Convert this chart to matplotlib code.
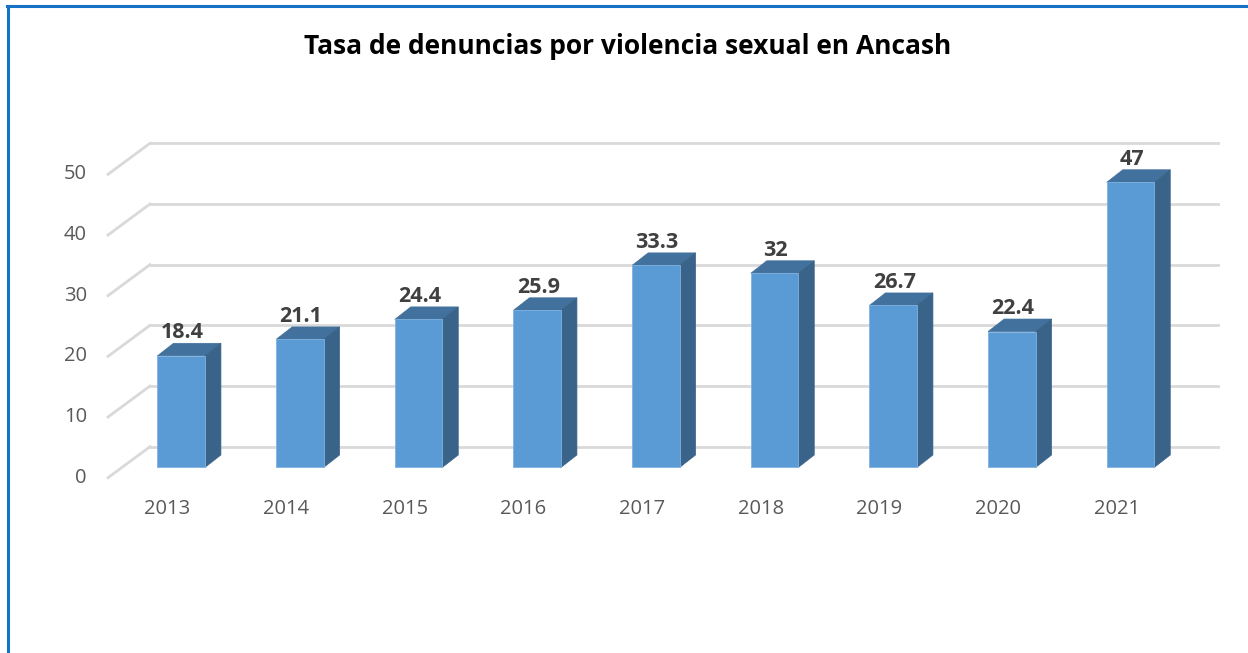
import matplotlib
matplotlib.use("Agg")
import matplotlib.pyplot as plt
from matplotlib.patches import Polygon
from matplotlib.lines import Line2D

# ---- data ----
years = ["2013", "2014", "2015", "2016", "2017", "2018", "2019", "2020", "2021"]
rates = [18.4, 21.1, 24.4, 25.9, 33.3, 32, 26.7, 22.4, 47]
value_labels = ["18.4", "21.1", "24.4", "25.9", "33.3", "32", "26.7", "22.4", "47"]
y_ticks = [0, 10, 20, 30, 40, 50]
title = "Tasa de denuncias por violencia sexual en Ancash"

# ---- style ----
FONT = "Open Sans"
FRONT = "#5B9BD5"
TOP = "#41719C"
SIDE = "#3A6389"
GRID = "#D9D9D9"
TICK_COLOR = "#595959"
LABEL_COLOR = "#404040"
BORDER = "#1672C4"

W, H, DPI = 1248, 653, 100
fig = plt.figure(figsize=(W / DPI, H / DPI), dpi=DPI)
fig.patch.set_facecolor("white")

# back wall of the pseudo-3D plot area (pixels)
left_px, right_px = 150, 1218
y0_px, y50_px = 446.7, 143.3
ax = fig.add_axes([left_px / W, (H - y0_px) / H,
                   (right_px - left_px) / W, (y0_px - y50_px) / H])
ax.set_xlim(-0.5, len(years) - 0.5)
ax.set_ylim(0, 50)
ax.axis("off")

# pixel -> data unit scales
sx = (right_px - left_px) / len(years)
sy = (y0_px - y50_px) / 50.0

# oblique depth: back wall -> front edge of the floor
depth_dx, depth_dy = -42 / sx, -31 / sy
# bar front plane sits at this fraction of the floor depth
f = 0.67
bf_dx, bf_dy = depth_dx * f, depth_dy * f
# bar thickness (front face -> back face)
bd_dx, bd_dy = 16 / sx, 12.5 / sy
bar_w = 0.40

# gridlines: back wall line + diagonal on the left side wall
for v in y_ticks:
    ax.add_line(Line2D([-0.5, len(years) - 0.5], [v, v], color=GRID, lw=2.0,
                       clip_on=False, zorder=1))
    ax.add_line(Line2D([-0.5 + depth_dx, -0.5], [v + depth_dy, v], color=GRID,
                       lw=2.0, clip_on=False, zorder=1))
    ax.annotate(str(v), xy=(-0.5 + depth_dx, v + depth_dy), xytext=(-21, 0),
                textcoords="offset pixels", ha="right", va="center",
                fontsize=14.5, color=TICK_COLOR, family=FONT,
                annotation_clip=False)

xs = list(range(len(years)))
bar_x = [x + bf_dx for x in xs]

# front faces
ax.bar(bar_x, rates, width=bar_w, bottom=bf_dy, color=FRONT,
       edgecolor="#7FB2E0", linewidth=0.6, zorder=4, clip_on=False)

# top and side faces
for x, v in zip(bar_x, rates):
    xl, xr = x - bar_w / 2, x + bar_w / 2
    top_y = v + bf_dy
    base_y = bf_dy
    top = Polygon([(xl, top_y), (xr, top_y), (xr + bd_dx, top_y + bd_dy),
                   (xl + bd_dx, top_y + bd_dy)], closed=True,
                  facecolor=TOP, edgecolor=TOP, lw=0.5, zorder=3, clip_on=False)
    side = Polygon([(xr, base_y), (xr, top_y), (xr + bd_dx, top_y + bd_dy),
                    (xr + bd_dx, base_y + bd_dy)], closed=True,
                   facecolor=SIDE, edgecolor=SIDE, lw=0.5, zorder=3, clip_on=False)
    ax.add_patch(top)
    ax.add_patch(side)

# value labels
for x, v, s in zip(bar_x, rates, value_labels):
    ax.annotate(s, xy=(x, v + bf_dy), xytext=(1, 17.5),
                textcoords="offset pixels", ha="center", va="baseline",
                fontsize=15.5, fontweight="bold", color=LABEL_COLOR,
                family=FONT, annotation_clip=False, zorder=6)

# category labels along the front edge of the floor
for x, yr in zip(xs, years):
    ax.annotate(yr, xy=(x + depth_dx, depth_dy), xytext=(0, -31),
                textcoords="offset pixels", ha="center", va="center",
                fontsize=14.5, color=TICK_COLOR, family=FONT,
                annotation_clip=False)

# title
fig.text(627.5 / W, 1 - 47 / H, title, ha="center", va="center",
         fontsize=19, fontweight="bold", color="black", family=FONT)

# frame around the chart
fig.add_artist(Line2D([7.5 / W, 7.5 / W], [0, 1 - 5.5 / H], color=BORDER,
                      lw=2.2, transform=fig.transFigure))
fig.add_artist(Line2D([6.5 / W, 1], [1 - 5.5 / H, 1 - 5.5 / H], color=BORDER,
                      lw=2.2, transform=fig.transFigure))

fig.savefig("out.png", dpi=DPI, facecolor="white")
